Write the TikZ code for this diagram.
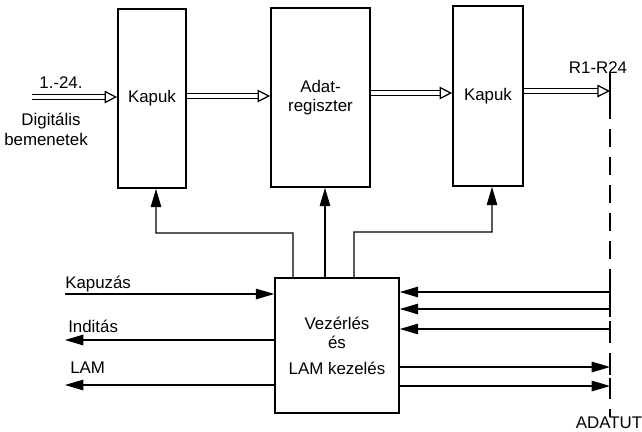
\documentclass[tikz,border=0pt]{standalone}
\usepackage{fontspec}
\setmainfont{Liberation Sans}
\usetikzlibrary{arrows.meta}

\begin{document}
\begin{tikzpicture}[x=0.25mm, y=-0.25mm, font=\fontsize{12}{14}\selectfont,
    box/.style={draw, line width=1.2pt, align=center, inner sep=0pt},
    bus/.style={double, double distance=3.5pt, line width=0.7pt,
        -{Triangle[open, length=9pt, width=9pt, line width=0.9pt]}},
    ctl/.style={line width=0.8pt, -{Triangle[length=13pt, width=7.5pt]}}]
    \useasboundingbox (0,0) rectangle (642,431);

    % Blocks
    \node[box, minimum width=17mm, minimum height=44.75mm] (kapuA) at (152,98.5) {Kapuk};
    \node[box, minimum width=24.75mm, minimum height=44.75mm] (regiszter) at (320.5,97.5) {Adat-\\regiszter};
    \node[box, minimum width=17.5mm, minimum height=45mm] (kapuB) at (488,96) {Kapuk};
    \node[box, minimum width=31mm, minimum height=33.75mm] (vezerles) at (337,345.5)
        {Vezérlés\\és\\[4pt]LAM kezelés};

    % Data bus (ADATUT)
    \coordinate (utfent) at (610,73);
    \coordinate (utlent) at (610,417);
    \draw[line width=0.8pt, dash pattern=on 4.5mm off 2.5mm] (utfent) -- (utlent);
    \foreach \y in {80,292,309,329,367,386}
        \draw[line width=0.8pt] (utfent |- 0,\y-8) -- (utfent |- 0,\y+8);
    \draw[line width=0.8pt] (utfent) -- (utfent |- 0,102);

    % Parallel data paths
    \coordinate (be) at (32,97);
    \draw[bus] (be) -- (be -| kapuA.west);
    \draw[bus] (kapuA.east |- 0,96) -- (regiszter.west |- 0,96);
    \draw[bus] (regiszter.east |- 0,93) -- (kapuB.west |- 0,93);
    \draw[bus] (kapuB.east |- 0,91) -- (utfent |- 0,91);

    % Control of the blocks
    \draw[ctl] ([xshift=-11mm]vezerles.north) |- (156,233) -- ([xshift=1mm]kapuA.south);
    \draw[ctl] ([xshift=-3mm]vezerles.north) -- ([xshift=-3mm]vezerles.north |- regiszter.south);
    \draw[ctl] ([xshift=4.25mm]vezerles.north) |- (492,232) -- ([xshift=1mm]kapuB.south);

    % Left signals
    \coordinate (kapuzas) at (65,294);
    \coordinate (inditas) at (65,340);
    \coordinate (lam) at (65,385);
    \draw[ctl] (kapuzas) -- (kapuzas -| vezerles.west);
    \draw[ctl] (inditas -| vezerles.west) -- (inditas);
    \draw[ctl] (lam -| vezerles.west) -- (lam);

    % Right signals
    \foreach \y in {292,309,329}
        \draw[ctl] (utfent |- 0,\y) -- (vezerles.east |- 0,\y);
    \foreach \y in {367,386}
        \draw[ctl] (vezerles.east |- 0,\y) -- (utfent |- 0,\y);

    % Labels
    \node[anchor=base] (lbe) at (61,88) {1.-24.};
    \node[anchor=base] (ldig) at (51,125) {Digitális};
    \node[anchor=base] (lbem) at (46,145) {bemenetek};
    \node[anchor=base] (lr) at (598,73) {R1-R24};
    \node[anchor=base] (lut) at (609,428) {ADATUT};
    \node[anchor=base west, inner sep=0pt] (lkapuzas) at (65,288) {Kapuzás};
    \node[anchor=base west, inner sep=0pt] (linditas) at (68,332) {Inditás};
    \node[anchor=base west, inner sep=0pt] (llam) at (70,373) {LAM};
\end{tikzpicture}
\end{document}
